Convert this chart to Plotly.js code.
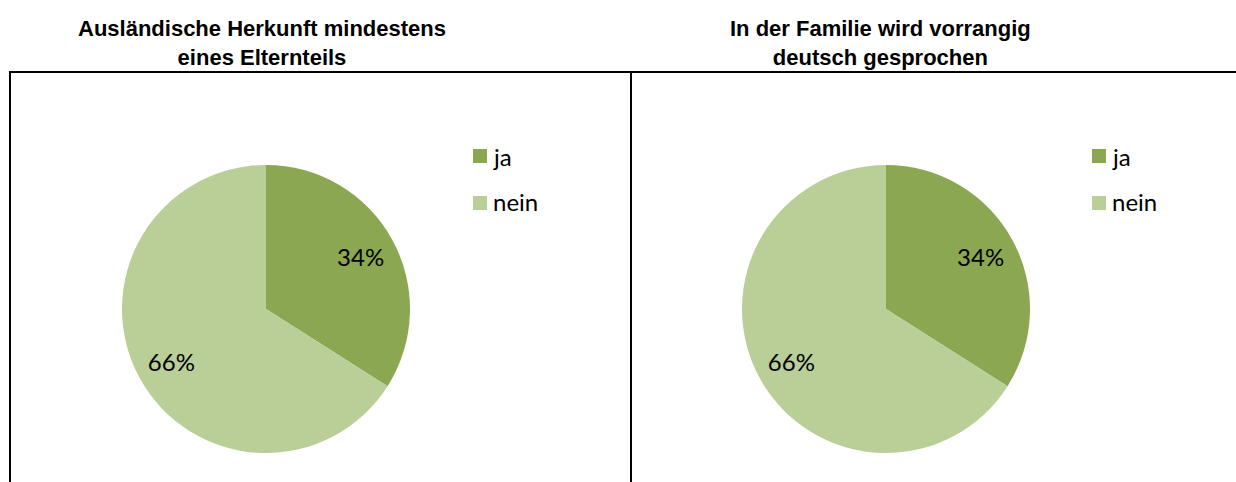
<!DOCTYPE html>
<html>
<head>
<meta charset="utf-8">
<script src="https://cdn.plot.ly/plotly-3.0.1.min.js"></script>
<style>html,body{margin:0;padding:0;background:#fff;}#chart{width:1236px;height:482px;}</style>
</head>
<body>
<div id="chart"></div>
<script>
// ---- data ----
const labels = ["ja", "nein"];
const valuesHerkunft = [34, 66];
const valuesDeutsch = [34, 66];
const sliceColors = ["#8BA752", "#BACE98"];
const titles = [
  "Ausländische Herkunft mindestens<br>eines Elternteils",
  "In der Familie wird vorrangig<br>deutsch gesprochen"
];

// ---- layout helpers (pixel -> paper) ----
const W = 1236, H = 482;
const px = x => x / W;
const py = y => 1 - y / H;

const pieCenters = [266, 886];
const pieCY = 309, pieR = 144;
const titleCX = [262, 880];
const legendSqX = [473, 1092];
const legendSqY = [156, 203];
const legendTxtY = [157, 201];

const valueSets = [valuesHerkunft, valuesDeutsch];
const domainOf = i => ({
  x: [px(pieCenters[i] - pieR), px(pieCenters[i] + pieR)],
  y: [py(pieCY + pieR), py(pieCY - pieR)]
});

const traces = [];
valueSets.forEach((vals, i) => {
  // filled pie
  traces.push({
    type: "pie",
    labels: labels,
    values: vals,
    sort: false,
    direction: "clockwise",
    rotation: 0,
    marker: { colors: sliceColors, line: { width: 0 } },
    textinfo: "none",
    hoverinfo: "label+percent",
    showlegend: false,
    domain: domainOf(i)
  });
  // transparent ring that carries the percentage labels further out
  traces.push({
    type: "pie",
    labels: labels,
    values: vals,
    sort: false,
    direction: "clockwise",
    rotation: 0,
    hole: 0.5,
    marker: { colors: ["rgba(0,0,0,0)", "rgba(0,0,0,0)"], line: { width: 0 } },
    textinfo: "percent",
    textposition: "inside",
    insidetextorientation: "horizontal",
    textfont: { family: "Lato, 'Open Sans', sans-serif", size: 24, color: "#000" },
    hoverinfo: "skip",
    showlegend: false,
    domain: domainOf(i)
  });
});

const shapes = [
  { type: "line", xref: "paper", yref: "paper", x0: px(9), x1: px(1236), y0: py(72), y1: py(72), line: { color: "#000", width: 2 } },
  { type: "line", xref: "paper", yref: "paper", x0: px(10), x1: px(10), y0: py(72), y1: py(482), line: { color: "#000", width: 2 } },
  { type: "line", xref: "paper", yref: "paper", x0: px(631), x1: px(631), y0: py(72), y1: py(482), line: { color: "#000", width: 2 } }
];

const annotations = [];
titles.forEach((t, i) => {
  annotations.push({
    xref: "paper", yref: "paper", x: px(titleCX[i]), y: py(43),
    xanchor: "center", yanchor: "middle", showarrow: false,
    text: "<b>" + t + "</b>",
    font: { family: "'Liberation Sans', Arial, sans-serif", size: 22, color: "#000" }
  });
});

// legends (one per chart), built from labels and colours
[0, 1].forEach(i => {
  labels.forEach((lab, j) => {
    const x0 = legendSqX[i];
    shapes.push({
      type: "rect", xref: "paper", yref: "paper",
      x0: px(x0), x1: px(x0 + 14), y0: py(legendSqY[j] + 7), y1: py(legendSqY[j] - 7),
      fillcolor: sliceColors[j], line: { width: 0 }
    });
    annotations.push({
      xref: "paper", yref: "paper", x: px(x0 + 18), y: py(legendTxtY[j]),
      xanchor: "left", yanchor: "middle", showarrow: false,
      text: lab,
      font: { family: "Lato, 'Open Sans', sans-serif", size: 24, color: "#000" }
    });
  });
});

const layout = {
  width: W, height: H,
  margin: { l: 0, r: 0, t: 0, b: 0 },
  paper_bgcolor: "#fff",
  plot_bgcolor: "#fff",
  showlegend: false,
  shapes: shapes,
  annotations: annotations
};

Plotly.newPlot("chart", traces, layout, { displayModeBar: false, staticPlot: true });
</script>
</body>
</html>
